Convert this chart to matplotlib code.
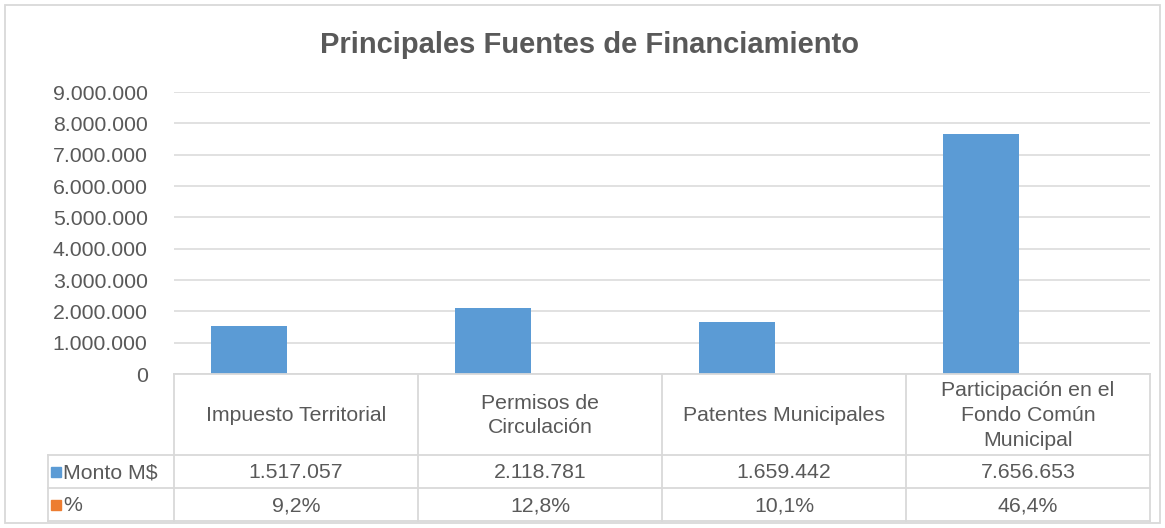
import matplotlib.pyplot as plt
from matplotlib.patches import Rectangle
from matplotlib.ticker import FuncFormatter

plt.rcParams['font.family'] = ['Liberation Sans', 'DejaVu Sans']

categorias = ["Impuesto Territorial", "Permisos de\nCirculación", "Patentes Municipales",
              "Participación en el\nFondo Común\nMunicipal"]
monto = [1517057, 2118781, 1659442, 7656653]
porcentaje = [9.2, 12.8, 10.1, 46.4]
series = ["Monto M$", "%"]
y_ticks = [0, 1000000, 2000000, 3000000, 4000000, 5000000, 6000000, 7000000, 8000000, 9000000]

BLUE = '#5B9BD5'
ORANGE = '#ED7D31'
TXT = '#595959'
GRID = '#D9D9D9'
W, H = 1165, 528

def miles(v, pos=None):
    return f"{int(v):,}".replace(",", ".")

def pct_fmt(v):
    return f"{v:.1f}%".replace(".", ",")

fig = plt.figure(figsize=(W / 100, H / 100), dpi=100)

# pixel layout
px_left, px_right, px_top, px_zero = 174, 1150, 92, 374
lab_left = 48
row_y = [374, 455, 488, 521]

ax = fig.add_axes([px_left / W, 1 - px_zero / H, (px_right - px_left) / W, (px_zero - px_top) / H])
n = len(categorias)
xs = range(n)
bw = 0.312
off = -0.193
ax.bar([x + off for x in xs], monto, width=bw, color=BLUE, zorder=3)
ax.bar([x + off + bw for x in xs], [p / 100 for p in porcentaje], width=bw, color=ORANGE, zorder=3)
ax.set_xlim(-0.5, n - 0.5)
ax.set_ylim(0, 9000000)
ax.set_yticks(y_ticks)
ax.yaxis.set_major_formatter(FuncFormatter(miles))
ax.tick_params(axis='y', length=0, pad=19, labelsize=15.3, labelcolor=TXT)
ax.set_xticks([])
ax.grid(axis='y', color=GRID, linewidth=1.1, zorder=0)
for s in ax.spines.values():
    s.set_visible(False)

# data table
tx = fig.add_axes([lab_left / W, 1 - row_y[-1] / H, (px_right - lab_left) / W, (row_y[-1] - row_y[0]) / H])
tx.set_xlim(lab_left, px_right)
tx.set_ylim(row_y[-1], row_y[0])
tx.axis('off')
col_w = (px_right - px_left) / n
bounds = [px_left + i * col_w for i in range(n + 1)]
lc = dict(color=GRID, linewidth=1.3, clip_on=False)
tx.plot([px_left, px_right], [row_y[0], row_y[0]], **lc)
for y in row_y[1:]:
    tx.plot([lab_left, px_right], [y, y], **lc)
for b in bounds:
    tx.plot([b, b], [row_y[0], row_y[-1]], **lc)
tx.plot([lab_left, lab_left], [row_y[1], row_y[-1]], **lc)

fs = 15.3
for i, c in enumerate(categorias):
    cx = (bounds[i] + bounds[i + 1]) / 2
    tx.text(cx, (row_y[0] + row_y[1]) / 2 + 1, c, ha='center', va='center', fontsize=fs,
            color=TXT, linespacing=1.38)
    tx.text(cx, (row_y[1] + row_y[2]) / 2 + 1, miles(monto[i]), ha='center', va='center',
            fontsize=fs, color=TXT)
    tx.text(cx, (row_y[2] + row_y[3]) / 2 + 1, pct_fmt(porcentaje[i]), ha='center', va='center',
            fontsize=fs, color=TXT)

for r, (name, col) in enumerate(zip(series, [BLUE, ORANGE])):
    yc = (row_y[r + 1] + row_y[r + 2]) / 2
    tx.add_patch(Rectangle((51, yc - 5), 10, 10, color=col, clip_on=False))
    tx.text(63, yc + 1, name, ha='left', va='center', fontsize=fs, color=TXT)

fig.text(590 / W, 1 - 45 / H, "Principales Fuentes de Financiamiento", ha='center', va='center',
         fontsize=21, fontweight='bold', color=TXT)

fig.patches.append(Rectangle((5 / W, 5 / H), 1155 / W, 518 / H, transform=fig.transFigure,
                             fill=False, edgecolor=GRID, linewidth=1.3))

fig.savefig('out.png', dpi=100)
